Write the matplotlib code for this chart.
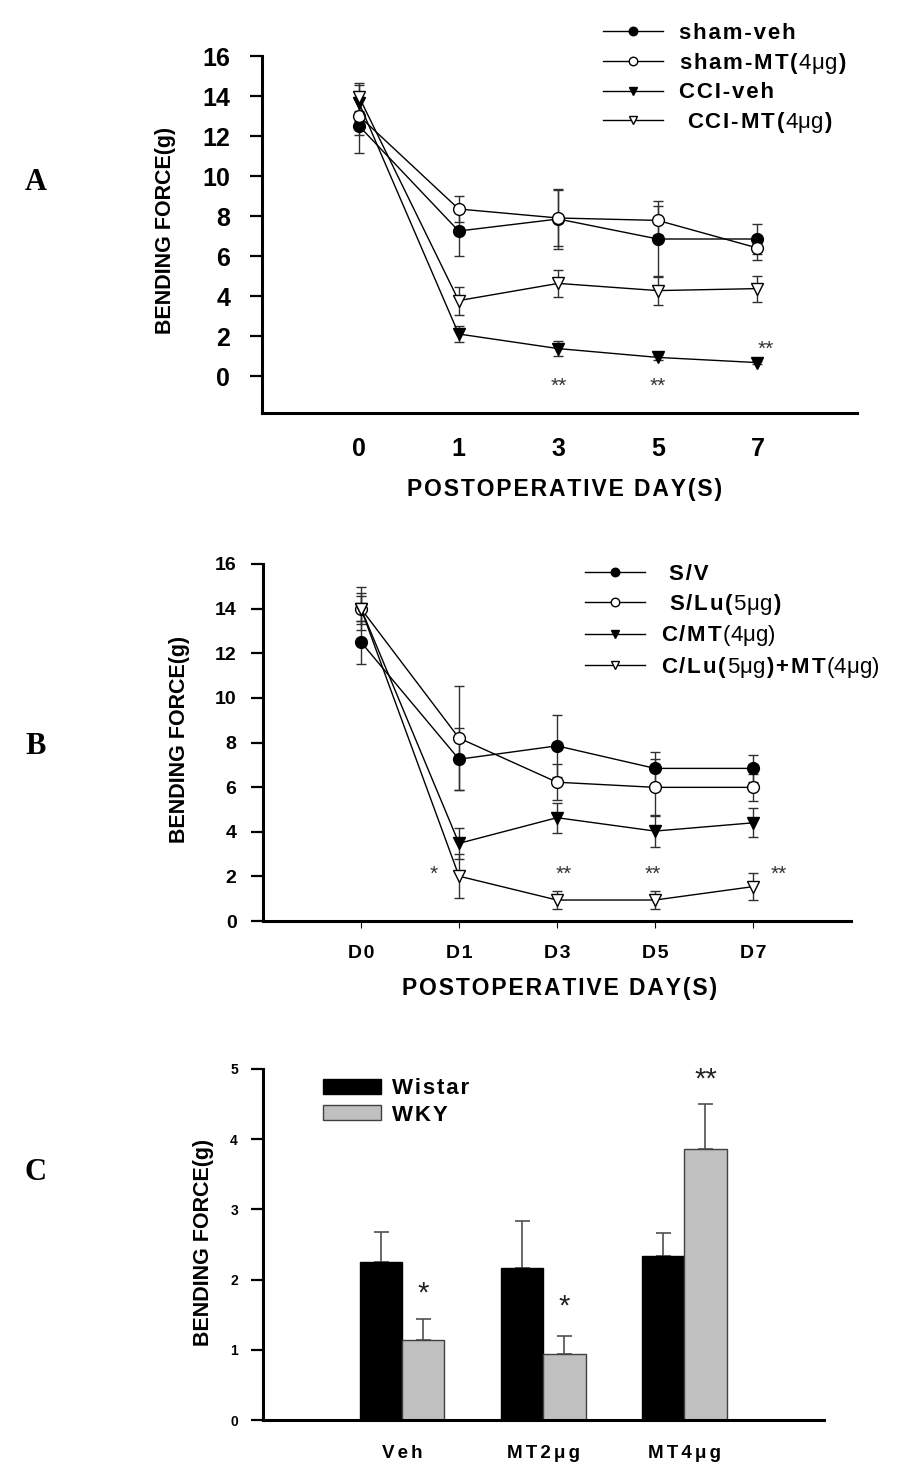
import matplotlib
matplotlib.use("Agg")
import matplotlib.pyplot as plt
import numpy as np

plt.rcParams["font.family"] = ["Liberation Sans", "DejaVu Sans"]
plt.rcParams["mathtext.fontset"] = "custom"
plt.rcParams["mathtext.rm"] = "Liberation Sans"
plt.rcParams["mathtext.bf"] = "Liberation Sans:bold"

SEXTO = "\u2006"
CABELO = "\u200a"
L, A = 916, 1472

# Painel A - limiar mecânico (von Frey)
dias_a = ["0", "1", "3", "5", "7"]
sham_veh = [12.5, 7.25, 7.85, 6.85, 6.85]
sham_veh_err = [1.34, 1.27, 1.5, 1.9, 0.77]
sham_mt = [13.0, 8.35, 7.9, 7.78, 6.4]
sham_mt_err = [0.96, 0.67, 1.42, 0.74, 0.6]
cci_veh = [13.65, 2.1, 1.37, 0.93, 0.67]
cci_veh_err = [0.9, 0.42, 0.38, 0.12, 0.08]
cci_mt = [13.95, 3.77, 4.63, 4.27, 4.37]
cci_mt_err = [0.72, 0.7, 0.67, 0.73, 0.65]
estrelas_a_x = [2, 3, 4.08]
estrelas_a_y = [-0.53, -0.53, 1.33]

# Painel B
dias_b = ["D0", "D1", "D3", "D5", "D7"]
s_v = [12.5, 7.25, 7.85, 6.84, 6.84]
s_v_err = [0.96, 1.38, 1.39, 0.75, 0.6]
s_lu = [14.0, 8.2, 6.22, 5.99, 5.99]
s_lu_err = [0.97, 2.31, 0.8, 1.27, 0.6]
c_mt = [14.0, 3.48, 4.63, 4.03, 4.4]
c_mt_err = [0.7, 0.7, 0.67, 0.7, 0.65]
c_lu_mt = [14.0, 2.01, 0.94, 0.94, 1.54]
c_lu_mt_err = [0.55, 1.0, 0.4, 0.4, 0.6]
estrelas_b_x = [0.74, 2.07, 2.98, 4.26]
estrelas_b_y = [2.1, 2.07, 2.07, 2.07]
estrelas_b_txt = ["*", "**", "**", "**"]

# Painel C
grupos_c = ["Veh", "MT2μg", "MT4μg"]
wistar = [2.25, 2.17, 2.33]
wistar_err = [0.43, 0.66, 0.33]
wky = [1.14, 0.94, 3.86]
wky_err = [0.30, 0.26, 0.64]
estrelas_c_y = [1.8, 1.62, 4.85]
estrelas_c_txt = ["*", "*", "**"]


def espacar(texto, sep=CABELO):
    return sep.join(texto)


def rotulo(*partes):
    # partes: (texto, negrito) -> negrito com espaçamento, regular em mathtext
    pedacos = []
    for texto, negrito in partes:
        if negrito:
            pedacos.append(espacar(texto))
        else:
            pedacos.append(r"$\mathrm{" + texto + "}$")
    return CABELO.join(pedacos)


def caixa(x0, y0, x1, y1):
    return [x0 / L, 1 - y1 / A, (x1 - x0) / L, (y1 - y0) / A]


def estilo_eixos(ax, tam_tick_y, pad_y, pad_x, tick_x):
    for lado in ["top", "right"]:
        ax.spines[lado].set_visible(False)
    for lado in ["left", "bottom"]:
        ax.spines[lado].set_linewidth(2.2)
    ax.tick_params(axis="y", direction="out", length=9, width=1.6,
                   labelsize=tam_tick_y, pad=pad_y)
    ax.tick_params(axis="x", direction="out", length=tick_x, width=0.8,
                   pad=pad_x)
    for t in ax.get_yticklabels():
        t.set_fontweight("bold")


def desenhar_linhas(ax, x, series):
    for valores, erros, marcador, preench, nome in series:
        ax.errorbar(x, valores, yerr=erros, fmt="none", ecolor="#303030",
                    elinewidth=1.0, capsize=3.5, capthick=1.0, zorder=2)
        ax.plot(x, valores, color="black", lw=1.0, marker=marcador, ms=8.5,
                mfc=preench, mec="black", mew=1.0, label=nome, zorder=3)


def legenda(ax, x0, y0):
    ax.legend(loc="upper left", bbox_to_anchor=(x0 / L, 1 - y0 / A),
              bbox_transform=fig.transFigure, frameon=False,
              prop={"weight": "bold", "size": 16}, handlelength=2.7,
              handletextpad=0.7, labelspacing=0.3, borderpad=0,
              borderaxespad=0, numpoints=1, markerscale=0.72)


fig = plt.figure(figsize=(L / 100, A / 100), dpi=100)

# ---------------- A ----------------
ax_a = fig.add_axes(caixa(262, 56, 857, 413))
x_a = np.arange(len(dias_a))
desenhar_linhas(ax_a, x_a, [
    (sham_veh, sham_veh_err, "o", "black", espacar("sham-veh")),
    (sham_mt, sham_mt_err, "o", "white",
     rotulo(("sham-MT(", True), ("4μg", False), (")", True))),
    (cci_veh, cci_veh_err, "v", "black", espacar("CCI-veh")),
    (cci_mt, cci_mt_err, "v", "white",
     rotulo((" CCI-MT(", True), ("4μg", False), (")", True))),
])
for xe, ye in zip(estrelas_a_x, estrelas_a_y):
    ax_a.text(xe, ye, "**", ha="center", va="center",
              fontsize=15, color="#333333")
ax_a.set_xlim(-0.975, 5.0)
ax_a.set_ylim(-1.85, 16)
ax_a.set_yticks(range(0, 17, 2))
ax_a.set_xticks(x_a, dias_a, fontsize=18, fontweight="bold")
estilo_eixos(ax_a, 18, 14, 17, 0)
legenda(ax_a, 603, 23)
fig.text(165 / L, 1 - 230 / A, "BENDING FORCE(g)", rotation=90, ha="center",
         va="center", fontsize=15.5, fontweight="bold")
fig.text(565 / L, 1 - 490 / A, espacar("POSTOPERATIVE DAY(S)"),
         ha="center", va="center", fontsize=16.5, fontweight="bold")

# ---------------- B ----------------
ax_b = fig.add_axes(caixa(263, 564, 851, 921))
x_b = np.arange(len(dias_b))
desenhar_linhas(ax_b, x_b, [
    (s_v, s_v_err, "o", "black", espacar(" S/V")),
    (s_lu, s_lu_err, "o", "white",
     rotulo((" S/Lu(", True), ("5μg", False), (")", True))),
    (c_mt, c_mt_err, "v", "black",
     rotulo(("C/MT", True), ("(4μg)", False))),
    (c_lu_mt, c_lu_mt_err, "v", "white",
     rotulo(("C/Lu(", True), ("5μg", False), (")+MT", True),
            ("(4μg)", False))),
])
for xe, ye, te in zip(estrelas_b_x, estrelas_b_y, estrelas_b_txt):
    ax_b.text(xe, ye, te, ha="center", va="center",
              fontsize=15, color="#333333")
ax_b.set_xlim(-1.0, 5.0)
ax_b.set_ylim(0, 16)
ax_b.set_yticks(range(0, 17, 2))
ax_b.set_xticks(x_b, [espacar(d) for d in dias_b], fontsize=14,
                fontweight="bold")
estilo_eixos(ax_b, 14, 10, 12, 5)
legenda(ax_b, 585, 564)
fig.text(179 / L, 1 - 739 / A, "BENDING FORCE(g)", rotation=90, ha="center",
         va="center", fontsize=15.5, fontweight="bold")
fig.text(560 / L, 1 - 988 / A, espacar("POSTOPERATIVE DAY(S)"),
         ha="center", va="center", fontsize=16.5, fontweight="bold")

# ---------------- C ----------------
ax_c = fig.add_axes(caixa(263, 1069, 824, 1420))
x_c = np.arange(len(grupos_c))
largura = 0.3
ax_c.bar(x_c - largura / 2, wistar, largura, color="black",
         edgecolor="black", lw=1, label=espacar("Wistar"), zorder=2)
ax_c.bar(x_c + largura / 2, wky, largura, color="#c0c0c0",
         edgecolor="#404040", lw=1, label=espacar("WKY"), zorder=2)
ax_c.errorbar(x_c - largura / 2, wistar, yerr=[np.zeros(3), wistar_err],
              fmt="none", ecolor="#505050", elinewidth=1.2, capsize=5.4,
              capthick=1.2, zorder=1.5)
ax_c.errorbar(x_c + largura / 2, wky, yerr=[np.zeros(3), wky_err],
              fmt="none", ecolor="#505050", elinewidth=1.2, capsize=5.4,
              capthick=1.2, zorder=1.5)
for xe, ye, te in zip(x_c + largura / 2, estrelas_c_y, estrelas_c_txt):
    ax_c.text(xe, ye, te, ha="center", va="center", fontsize=21,
              color="#222222")
ax_c.set_xlim(-0.986, 2.99)
ax_c.set_ylim(0, 5)
ax_c.set_yticks(range(0, 6))
ax_c.set_xticks(x_c, [espacar(g, SEXTO) for g in grupos_c], fontsize=13.5,
                fontweight="bold")
estilo_eixos(ax_c, 10, 9, 18, 0)
ax_c.legend(loc="upper left", bbox_to_anchor=(323 / L, 1 - 1078 / A),
            bbox_transform=fig.transFigure, frameon=False,
            prop={"weight": "bold", "size": 16}, handlelength=2.6,
            handleheight=0.65, handletextpad=0.5, labelspacing=0.25,
            borderpad=0, borderaxespad=0)
fig.text(203 / L, 1 - 1242 / A, "BENDING FORCE(g)", rotation=90, ha="center",
         va="center", fontsize=15.5, fontweight="bold")

# letras dos painéis
for letra, yl in [("A", 183), ("B", 747), ("C", 1172)]:
    fig.text(36 / L, 1 - yl / A, letra, family="Liberation Serif",
             fontweight="bold", fontsize=22, ha="center", va="center")

fig.savefig("out.png", dpi=100)
